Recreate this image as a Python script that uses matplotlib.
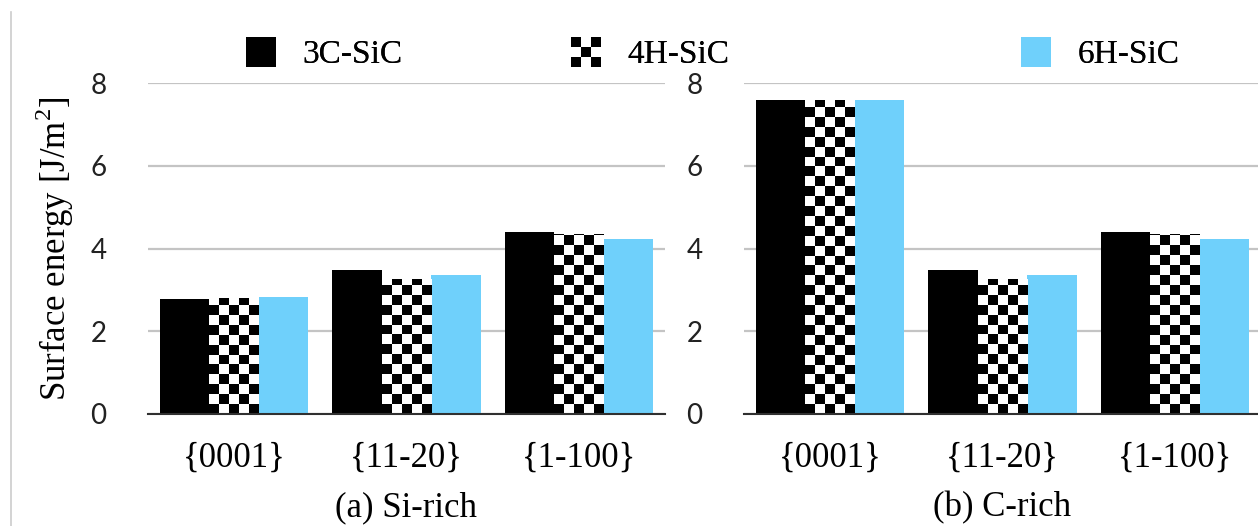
import numpy as np
import matplotlib
matplotlib.use("Agg")
import matplotlib.pyplot as plt
from matplotlib.patches import Rectangle
from matplotlib.legend_handler import HandlerBase
from matplotlib.lines import Line2D

categories = ["{0001}", "{11-20}", "{1-100}"]
series = ["3C-SiC", "4H-SiC", "6H-SiC"]
si_rich = [[2.78, 3.49, 4.40],
           [2.80, 3.27, 4.36],
           [2.83, 3.36, 4.23]]
c_rich = [[7.58, 3.49, 4.40],
          [7.58, 3.27, 4.36],
          [7.58, 3.36, 4.23]]
panel_titles = ["(a) Si-rich", "(b) C-rich"]
yticks = [0, 2, 4, 6, 8]

blue = "#6fd0fb"
serif = "Liberation Serif"
sans = "Lato"

fig = plt.figure(figsize=(12.58, 5.26), dpi=100)
ax1 = fig.add_axes([148 / 1258, 112 / 526, 517 / 1258, 331 / 526])
ax2 = fig.add_axes([744 / 1258, 112 / 526, 517 / 1258, 331 / 526])

w = 0.287
x = np.arange(len(categories))


def checker(ax, bar, ncol=5):
    # fill one bar with a black/white checkerboard, cells ~10px square
    x0, y0 = bar.get_x(), bar.get_y()
    bw, bh = bar.get_width(), bar.get_height()
    px_h = ax.transData.transform((0, bh))[1] - ax.transData.transform((0, 0))[1]
    px_w = ax.transData.transform((bw, 0))[0] - ax.transData.transform((0, 0))[0]
    cell = px_w / ncol
    nrow = int(np.ceil(px_h / cell))
    ii, jj = np.meshgrid(np.arange(ncol), np.arange(nrow))
    img = ((ii + jj) % 2).astype(float)
    top = y0 + nrow * cell * bh / px_h
    im = ax.imshow(img, cmap="gray", extent=[x0, x0 + bw, y0, top],
                   origin="lower", interpolation="nearest", aspect="auto",
                   zorder=3)
    im.set_clip_path(bar)


for ax, data, title in zip([ax1, ax2], [si_rich, c_rich], panel_titles):
    ax.set_xlim(-0.5, 2.5)
    ax.set_ylim(0, 8)
    b0 = ax.bar(x - w, data[0], w, color="black", zorder=3)
    b1 = ax.bar(x, data[1], w, color="white", zorder=2)
    b2 = ax.bar(x + w, data[2], w, color=blue, zorder=3)
    fig.canvas.draw()
    for bar in b1:
        checker(ax, bar)
    ax.set_xlim(-0.5, 2.5)
    ax.set_ylim(0, 8)
    ax.set_yticks(yticks, [str(v) for v in yticks], fontfamily=sans,
                  fontsize=20, color="#222222")
    ax.yaxis.grid(True, color="#c4c4c4", lw=1.6)
    ax.set_axisbelow(True)
    for s in ["top", "left", "right"]:
        ax.spines[s].set_visible(False)
    ax.spines["bottom"].set_color("#303030")
    ax.spines["bottom"].set_linewidth(1.5)
    ax.spines["bottom"].set_zorder(4)
    ax.tick_params(length=0)
    ax.tick_params(axis="y", pad=30)
    ax.set_xticks(x, categories, fontfamily=serif, fontsize=25)
    ax.tick_params(axis="x", pad=20)
    ax.set_xlabel(title, fontfamily=serif, fontsize=25, labelpad=12)

ax1.set_ylabel("Surface energy [J/m$^\\mathregular{2}$]", fontfamily=serif,
               fontsize=25, labelpad=10)


class CheckerHandler(HandlerBase):
    def create_artists(self, legend, orig, xd, yd, width, height, fontsize, trans):
        s = 30 * 72 / 100
        x0 = -xd
        y0 = -yd + (height - s) / 2
        arts = []
        c = s / 3
        for i in range(3):
            for j in range(3):
                col = "black" if (i + j) % 2 == 0 else "white"
                arts.append(Rectangle((x0 + i * c, y0 + j * c), c, c,
                                      facecolor=col, edgecolor="none",
                                      transform=trans))
        return arts


class SquareHandler(HandlerBase):
    def create_artists(self, legend, orig, xd, yd, width, height, fontsize, trans):
        s = 30 * 72 / 100
        x0 = -xd
        y0 = -yd + (height - s) / 2
        return [Rectangle((x0, y0), s, s, facecolor=orig.get_facecolor(),
                          edgecolor="none", transform=trans)]


handles = [Rectangle((0, 0), 1, 1, color="black"),
           Rectangle((0, 0), 1, 1, color="white"),
           Rectangle((0, 0), 1, 1, color=blue)]
legend_x = [246 / 1258, 571 / 1258, 1021 / 1258]
for h, lab, lx, hnd in zip(handles, series, legend_x,
                           [SquareHandler(), CheckerHandler(), SquareHandler()]):
    lg = fig.legend([h], [lab], loc="center left", bbox_to_anchor=(lx, 1 - 55 / 526),
                    frameon=False, handler_map={Rectangle: hnd},
                    prop={"family": serif, "size": 24}, handlelength=0.9,
                    handletextpad=0.8, borderaxespad=0, borderpad=0)
    fig.add_artist(lg)

fig.add_artist(Line2D([11 / 1258, 11 / 1258], [0, 1 - 12 / 526],
                      color="#cccccc", lw=1.2))

fig.savefig("out.png", dpi=100)
